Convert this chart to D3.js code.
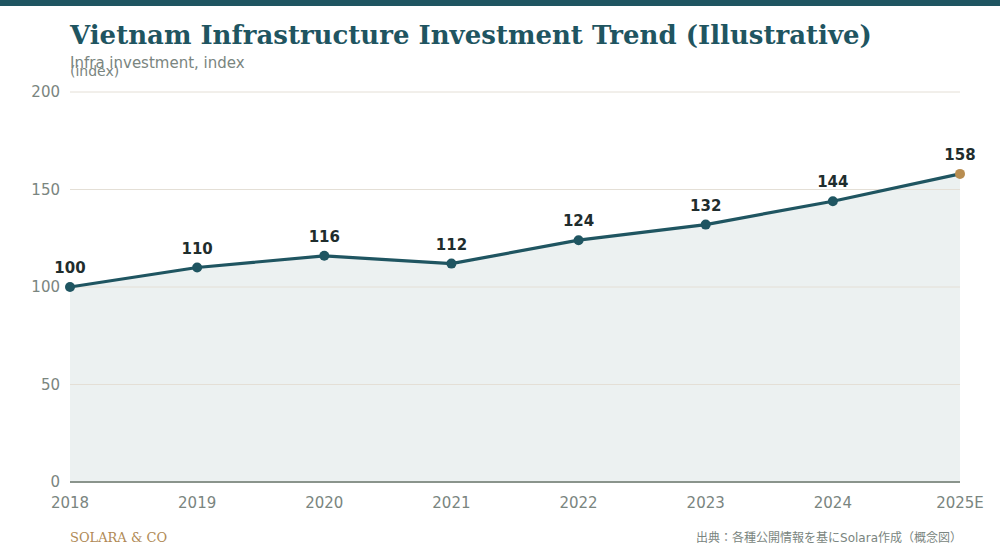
<!DOCTYPE html>
<html>
<head>
<meta charset="utf-8">
<script src="https://cdn.jsdelivr.net/npm/d3@7"></script>
<style>
  body { margin: 0; background: #fff; }
</style>
</head>
<body>
<div id="chart"></div>
<script>
const years = ["2018", "2019", "2020", "2021", "2022", "2023", "2024", "2025E"];
const investIndex = [100, 110, 116, 112, 124, 132, 144, 158];
const yTicks = [0, 50, 100, 150, 200];

const width = 1000;
const height = 560;
const margin = { top: 92, right: 40, bottom: 78, left: 70 };
const sans = "DejaVu Sans";

const svg = d3.select("#chart").append("svg")
  .attr("width", width)
  .attr("height", height)
  .attr("font-family", sans)
  .style("display", "block");

// top band
svg.append("rect")
  .attr("x", 0).attr("y", 0)
  .attr("width", width).attr("height", 6)
  .attr("fill", "#1f5561");

svg.append("text")
  .attr("x", 70).attr("y", 44)
  .attr("font-family", "DejaVu Serif")
  .attr("font-weight", "bold")
  .attr("font-size", 26)
  .attr("fill", "#1f5561")
  .text("Vietnam Infrastructure Investment Trend (Illustrative)");

svg.append("text")
  .attr("x", 70).attr("y", 68)
  .attr("font-family", sans)
  .attr("font-size", 15)
  .attr("fill", "#7a8580")
  .text("Infra investment, index");

svg.append("text")
  .attr("x", 70).attr("y", 76)
  .attr("font-family", sans)
  .attr("font-size", 14)
  .attr("fill", "#7a8580")
  .text("(index)");

const x = d3.scalePoint()
  .domain(years)
  .range([margin.left, width - margin.right]);

const y = d3.scaleLinear()
  .domain([0, 200])
  .range([height - margin.bottom, margin.top]);

const pts = years.map((yr, i) => ({ yr, v: investIndex[i] }));

const area = d3.area()
  .x(d => x(d.yr))
  .y0(y(0))
  .y1(d => y(d.v));

svg.append("path")
  .datum(pts)
  .attr("d", area)
  .attr("fill", "#ecf1f1");

// gridlines over the area
svg.append("g")
  .selectAll("line")
  .data(yTicks.filter(d => d > 0))
  .enter()
  .append("line")
  .attr("x1", margin.left)
  .attr("x2", width - margin.right)
  .attr("y1", d => y(d))
  .attr("y2", d => y(d))
  .attr("stroke", "#e4dfd6")
  .attr("stroke-width", 1);

// y labels
svg.append("g")
  .selectAll("text")
  .data(yTicks)
  .enter()
  .append("text")
  .attr("x", 60)
  .attr("y", d => y(d) + 5)
  .attr("text-anchor", "end")
  .attr("font-family", sans)
  .attr("font-size", 15)
  .attr("fill", "#7a8580")
  .text(d => d);

// baseline
svg.append("line")
  .attr("x1", margin.left)
  .attr("x2", width - margin.right)
  .attr("y1", y(0))
  .attr("y2", y(0))
  .attr("stroke", "#8a948c")
  .attr("stroke-width", 2);

const line = d3.line()
  .x(d => x(d.yr))
  .y(d => y(d.v));

svg.append("path")
  .datum(pts)
  .attr("d", line)
  .attr("fill", "none")
  .attr("stroke", "#1f5561")
  .attr("stroke-width", 3.2);

svg.append("g")
  .selectAll("circle")
  .data(pts)
  .enter()
  .append("circle")
  .attr("cx", d => x(d.yr))
  .attr("cy", d => y(d.v))
  .attr("r", 5)
  .attr("fill", (d, i) => i === pts.length - 1 ? "#b88d50" : "#1f5561");

svg.append("g")
  .selectAll("text")
  .data(pts)
  .enter()
  .append("text")
  .attr("x", d => x(d.yr))
  .attr("y", d => y(d.v) - 14)
  .attr("text-anchor", "middle")
  .attr("font-family", sans)
  .attr("font-size", 15)
  .attr("font-weight", "bold")
  .attr("fill", "#1f2d2d")
  .text(d => d.v);

// x labels
svg.append("g")
  .selectAll("text")
  .data(years)
  .enter()
  .append("text")
  .attr("x", d => x(d))
  .attr("y", 508)
  .attr("text-anchor", "middle")
  .attr("font-family", sans)
  .attr("font-size", 15)
  .attr("fill", "#7a8580")
  .text(d => d);

svg.append("text")
  .attr("x", 70).attr("y", 542)
  .attr("font-family", "DejaVu Serif")
  .attr("font-size", 13)
  .attr("fill", "#b08a55")
  .text("SOLARA & CO");

svg.append("text")
  .attr("x", 962).attr("y", 542)
  .attr("text-anchor", "end")
  .attr("font-family", "DejaVu Sans, Noto Sans CJK JP")
  .attr("font-size", 12)
  .attr("fill", "#7a8580")
  .text("出典：各種公開情報を基にSolara作成（概念図）");
</script>
</body>
</html>
